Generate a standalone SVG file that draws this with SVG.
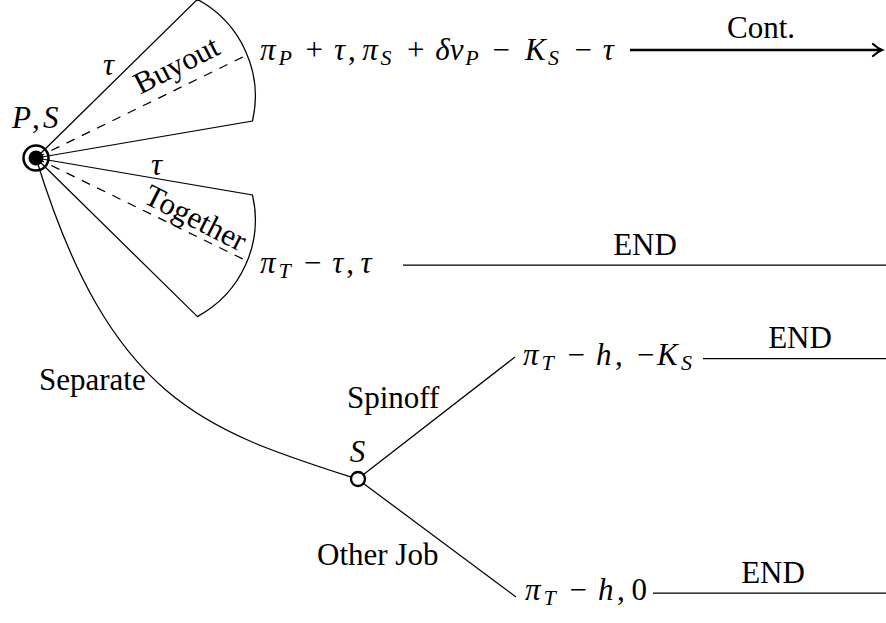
<svg xmlns="http://www.w3.org/2000/svg" width="886" height="623" viewBox="0 0 886 623">
<style>
.t{font-family:"Liberation Serif","Times New Roman",Times,serif;font-size:31px;fill:#000}
.i{font-style:italic}
.u{font-style:normal}
.s{font-size:22px}
.ln{fill:none;stroke:#000;stroke-width:1.25}
.ds{fill:none;stroke:#000;stroke-width:1.25;stroke-dasharray:9 8}
.thick{fill:none;stroke:#000;stroke-width:2.5}
</style>
<defs>
<marker id="arr" markerUnits="userSpaceOnUse" markerWidth="14" markerHeight="16" refX="11" refY="8" orient="auto">
<path d="M2,2 Q7,6.5 11,8 Q7,9.5 2,14" fill="none" stroke="#000" stroke-width="2.2" stroke-linecap="round"/>
</marker>
</defs>
<rect width="886" height="623" fill="#fff"/>

<g id="node-PS">
<circle cx="36" cy="158" r="12.5" fill="#fff" stroke="#000" stroke-width="2.5"/>
<circle cx="36" cy="158" r="7.5" fill="#000"/>
</g>

<g id="connectors">
<path id="edge-buyout" class="ln" d="M36,158 L197.4,-0.6 A110 110 0 0 1 252.5,121 L36,158"/>
<path class="ds" d="M36,158 L249,54"/>
<path id="edge-together" class="ln" d="M36,158 L252.5,195 A110 110 0 0 1 197.4,316.6 L36,158"/>
<path class="ds" d="M36,158 L249,262"/>
<path id="edge-separate" class="ln" d="M36,158 C110,400 205,430 351,477"/>
<path id="edge-spinoff" class="ln" d="M363.5,474.5 L515,357"/>
<path id="edge-otherjob" class="ln" d="M363.5,483.5 L516,597"/>
<path id="edge-cont" class="thick" d="M630,50 L882,50" marker-end="url(#arr)"/>
<path id="edge-end1" class="ln" d="M403,265 L886,265"/>
<path id="edge-end2" class="ln" d="M703,358.5 L886,358.5"/>
<path id="edge-end3" class="ln" d="M653,593 L886,593"/>
</g>

<g id="node-S">
<circle cx="358" cy="479" r="7" fill="#fff" stroke="#000" stroke-width="2.3"/>
<text class="t i" x="357.5" y="462" text-anchor="middle">S</text>
</g>

<g id="label-PS">
<text class="t i" y="128"><tspan x="12">P</tspan><tspan class="u" x="32">,</tspan><tspan x="43">S</tspan></text>
</g>

<g id="edge-labels">
<text class="t i" x="103" y="75">τ</text>
<text class="t i" x="151" y="175">τ</text>
<text class="t" text-anchor="middle" transform="translate(181,74) rotate(-27)">Buyout</text>
<text class="t" text-anchor="middle" transform="translate(191,227) rotate(27)">Together</text>
<text class="t" x="39" y="390">Separate</text>
<text class="t" x="347" y="408">Spinoff</text>
<text class="t" x="317" y="565">Other Job</text>
<text class="t" x="761" y="38" text-anchor="middle">Cont.</text>
<text class="t" x="645" y="255" text-anchor="middle">END</text>
<text class="t" x="800" y="348" text-anchor="middle">END</text>
<text class="t" x="773" y="583" text-anchor="middle">END</text>
</g>

<g id="payoff-buyout">
<text class="t i" y="60"><tspan x="260">π</tspan><tspan class="s" x="278.4" y="65">P</tspan><tspan class="u" x="305.5" y="60">+</tspan><tspan x="333.9">τ</tspan><tspan class="u" x="347.9">,</tspan><tspan x="362.2">π</tspan><tspan class="s" x="380.6" y="65">S</tspan><tspan class="u" x="406.9" y="60">+</tspan><tspan x="435.3">δ</tspan><tspan x="449.7">v</tspan><tspan class="s" x="465.2" y="65">P</tspan><tspan class="u" x="492.4" y="60">−</tspan><tspan x="525">K</tspan><tspan class="s" x="548" y="65">S</tspan><tspan class="u" x="574.4" y="60">−</tspan><tspan x="602.7">τ</tspan></text>
</g>

<g id="payoff-together">
<text class="t i" y="273"><tspan x="260">π</tspan><tspan class="s" x="278.4" y="278">T</tspan><tspan class="u" x="303.9" y="273">−</tspan><tspan x="332.2">τ</tspan><tspan class="u" x="346.3">,</tspan><tspan x="360.6">τ</tspan></text>
</g>

<g id="payoff-spinoff">
<text class="t i" y="365"><tspan x="523">π</tspan><tspan class="s" x="541.6" y="370">T</tspan><tspan class="u" x="567.5" y="365">−</tspan><tspan x="596.1">h</tspan><tspan class="u" x="614.9">,</tspan><tspan class="u" x="637">−</tspan><tspan x="657">K</tspan><tspan class="s" x="681" y="370">S</tspan></text>
</g>

<g id="payoff-otherjob">
<text class="t i" y="600"><tspan x="525">π</tspan><tspan class="s" x="543.6" y="605">T</tspan><tspan class="u" x="569.5" y="600">−</tspan><tspan x="598.1">h</tspan><tspan class="u" x="616.9">,</tspan><tspan class="u" x="631.4">0</tspan></text>
</g>
</svg>
